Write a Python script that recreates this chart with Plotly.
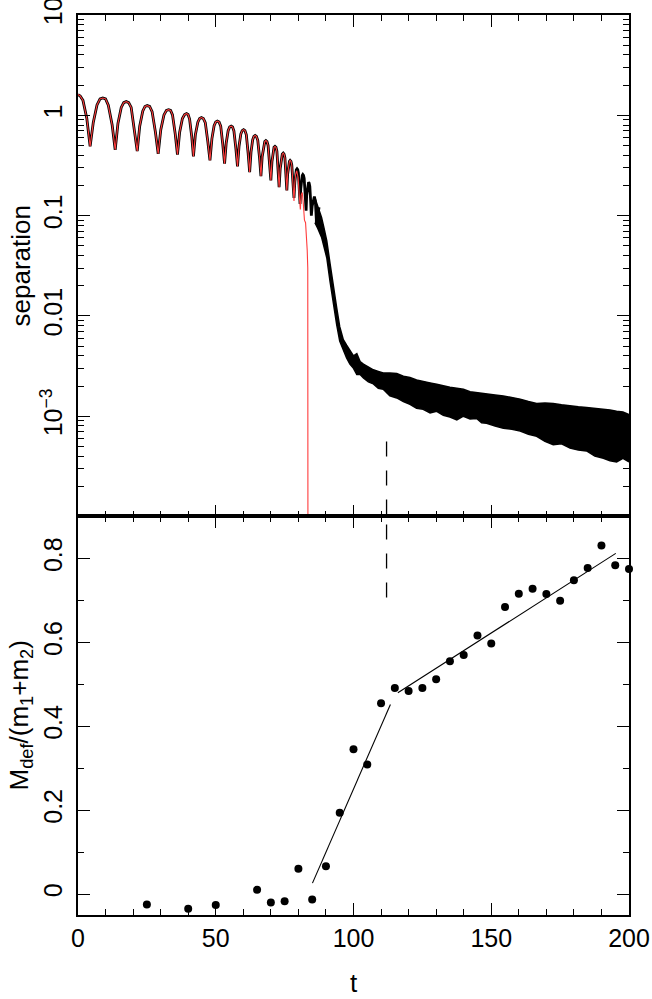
import plotly.graph_objects as go

# --- top panel: separation vs t ---------------------------------------
# oscillating phase (black curve)
osc_t = [0, 0.8, 1.8, 3.2, 4.4, 5.55, 6.9, 8.0, 9.0, 10.0, 11.0, 12.4, 13.5, 14.5, 15.7, 16.6,
         17.5, 18.4, 19.3, 20.5, 21.5, 22.4, 23.5, 24.3, 25.1, 26.0, 26.9, 28.1, 29.1, 30.05,
         31.2, 32.1, 32.9, 33.6, 34.3, 35.3, 36.1, 36.9, 37.9, 38.7, 39.4, 39.95, 40.5, 41.3,
         41.9, 42.6, 43.5, 44.15, 44.8, 45.5, 46.2, 47.1, 47.9, 48.6, 49.4, 50.0, 50.6, 51.2,
         51.8, 52.55, 53.2, 53.8, 54.5, 55.05, 55.6, 56.1, 56.6, 57.3, 57.9, 58.45, 59.1, 59.6,
         60.1, 60.6, 61.1, 61.75, 62.3, 62.8, 63.4, 63.85, 64.3, 64.75, 65.25, 65.9, 66.4,
         66.85, 67.4, 67.8, 68.2, 68.6, 69.0, 69.55, 70.0, 70.4, 70.8, 71.15, 71.5, 71.85, 72.2,
         72.6, 73.0, 73.4, 73.8, 74.15, 74.5, 74.8, 75.1, 75.5, 75.8, 76.1, 76.45, 76.75, 77.0,
         77.3, 77.6, 78.05, 78.4, 78.7, 79.0, 79.25, 79.5, 79.75, 80.0, 80.3, 80.6, 80.85,
         81.15, 81.4, 81.6, 81.85, 82.1, 82.5, 82.8, 83.0, 83.3, 83.5, 83.7, 83.9, 84.15, 84.45,
         84.7, 85.0, 85.4, 85.8, 86.15, 86.6, 87.0, 87.5]
osc_sep = [1.61, 1.56, 1.41, 0.93, 0.49, 0.85, 1.27, 1.46, 1.49, 1.46, 1.26, 0.80, 0.454, 0.83,
           1.20, 1.34, 1.37, 1.34, 1.20, 0.73, 0.44, 0.78, 1.10, 1.225, 1.25, 1.225, 1.09, 0.68,
           0.414, 0.72, 1.01, 1.12, 1.14, 1.12, 1.01, 0.65, 0.407, 0.68, 0.93, 1.02, 1.04, 1.02,
           0.92, 0.61, 0.39, 0.64, 0.855, 0.93, 0.95, 0.93, 0.845, 0.553, 0.355, 0.583, 0.787,
           0.86, 0.877, 0.86, 0.78, 0.513, 0.33, 0.53, 0.703, 0.765, 0.78, 0.765, 0.698, 0.469,
           0.31, 0.492, 0.65, 0.705, 0.72, 0.705, 0.64, 0.42, 0.271, 0.43, 0.569, 0.617, 0.63,
           0.617, 0.563, 0.377, 0.247, 0.387, 0.507, 0.548, 0.56, 0.548, 0.50, 0.338, 0.224,
           0.344, 0.446, 0.48, 0.49, 0.48, 0.438, 0.292, 0.192, 0.295, 0.382, 0.41, 0.42, 0.41,
           0.379, 0.262, 0.178, 0.26, 0.327, 0.348, 0.355, 0.348, 0.32, 0.221, 0.15, 0.217, 0.27,
           0.287, 0.293, 0.287, 0.266, 0.188, 0.131, 0.185, 0.232, 0.252, 0.257, 0.252, 0.235,
           0.165, 0.112, 0.16, 0.195, 0.211, 0.215, 0.211, 0.195, 0.14, 0.10, 0.125, 0.145,
           0.155, 0.14, 0.085, 0.10, 0.121]

# after the plunge the black curve is a dense noisy band: upper / lower edges
band_t = [86.0, 87.0, 88.4, 89.3, 90.3, 91.5, 92.7, 93.9, 95.0, 96.3, 97.5, 98.7, 100.0, 101.2,
          102.4, 103.6, 105.4, 107.2, 109.0, 110.8, 113.2, 115.7, 118.1, 120.5, 122.9, 125.3,
          127.8, 130.2, 132.6, 135.0, 137.5, 139.9, 142.3, 144.7, 146.5, 148.3, 151.4, 154.4,
          157.5, 160.5, 163.5, 166.5, 169.5, 172.5, 175.5, 178.6, 181.6, 184.6, 187.6, 190.7,
          193.1, 195.5, 197.8, 200.0]
band_hi = [0.15, 0.125, 0.096, 0.075, 0.056, 0.033, 0.0192, 0.012, 0.0078, 0.0058, 0.0051, 0.0045,
           0.0040, 0.0042, 0.0035, 0.0033, 0.0031, 0.0029, 0.0028, 0.0027, 0.0027, 0.00266, 0.0025,
           0.00243, 0.0023, 0.00224, 0.00215, 0.00208, 0.0020, 0.00194, 0.0019, 0.00186, 0.00175,
           0.00171, 0.0017, 0.00167, 0.00163, 0.00159, 0.00153, 0.00148, 0.0014, 0.00134, 0.00135,
           0.00134, 0.0013, 0.00126, 0.00124, 0.00122, 0.0012, 0.00118, 0.00115, 0.00112, 0.0011,
           0.00104]
band_lo = [0.085, 0.075, 0.061, 0.05, 0.038, 0.022, 0.013, 0.0082, 0.0056, 0.0046, 0.0038, 0.0033,
           0.0030, 0.0026, 0.0026, 0.0024, 0.0022, 0.0021, 0.0019, 0.00186, 0.0016, 0.00152, 0.0014,
           0.00131, 0.0012, 0.00117, 0.00108, 0.00112, 0.00102, 0.00098, 0.00092, 0.001, 0.00094,
           0.00095, 0.00086, 0.00085, 0.0008, 0.00076, 0.00074, 0.00071, 0.00066, 0.00063, 0.00056,
           0.00052, 0.00053, 0.00048, 0.00046, 0.00045, 0.0004, 0.00038, 0.00036, 0.00035, 0.00038,
           0.00035]

# red curve: identical to the black one up to t=77.3, then plunges at t~83.5
red_shared_until = 77.3
red_tail_t = [77.6, 78.05, 78.4, 78.7, 79.0, 79.4, 79.9, 80.3, 80.7, 81.0, 81.4, 81.8, 82.2, 82.6,
              82.9, 83.2, 83.4, 83.5, 83.5]
red_tail_sep = [0.32, 0.21, 0.14, 0.21, 0.26, 0.28, 0.24, 0.16, 0.115, 0.16, 0.17, 0.13, 0.09,
                0.085, 0.065, 0.045, 0.03, 0.012, 1e-6]

# --- bottom panel: M_def/(m1+m2) vs t ---------------------------------
mdef_t = [25, 40, 50, 65, 70, 75, 80, 85, 90, 95, 100, 105, 110, 115, 120, 125, 130, 135, 140,
          145, 150, 155, 160, 165, 170, 175, 180, 185, 190, 195, 200]
mdef = [-0.025, -0.035, -0.026, 0.010, -0.020, -0.017, 0.060, -0.013, 0.066, 0.194, 0.345, 0.309,
        0.455, 0.491, 0.484, 0.491, 0.512, 0.555, 0.570, 0.616, 0.597, 0.684, 0.716, 0.728, 0.715,
        0.699, 0.748, 0.777, 0.831, 0.784, 0.775]
fit1_t, fit1 = [85.1, 113.4], [0.026, 0.452]
fit2_t, fit2 = [116.1, 195.2], [0.480, 0.812]

# merger time marker (dashed)
t_merge = 112
merge_sep = [5.6e-4, 1e-6]
merge_m = [0.95, 0.70]

sep_ticks = [10, 1, 0.1, 0.01, 0.001]
sep_ticktext = ["10", "1", "0.1", "0.01", "10<sup>\u22123</sup>"]
m_ticks = [0, 0.2, 0.4, 0.6, 0.8]
m_ticktext = ["0", "0.2", "0.4", "0.6", "0.8"]

assert len(osc_t) == len(osc_sep)
assert len(band_t) == len(band_hi) == len(band_lo)
assert len(red_tail_t) == len(red_tail_sep)

FONT = "Liberation Sans, Arial, sans-serif"
n_shared = osc_t.index(red_shared_until) + 1

fig = go.Figure()

fig.add_trace(go.Scatter(
    x=band_t + band_t[::-1], y=band_hi + band_lo[::-1],
    mode="lines", fill="toself", fillcolor="black",
    line=dict(color="black", width=1.5), xaxis="x", yaxis="y", hoverinfo="skip",
))
fig.add_trace(go.Scatter(
    x=osc_t, y=osc_sep, mode="lines", line=dict(color="black", width=2.8),
    xaxis="x", yaxis="y",
))
fig.add_trace(go.Scatter(
    x=osc_t[:n_shared] + red_tail_t, y=osc_sep[:n_shared] + red_tail_sep,
    mode="lines", line=dict(color="rgb(255,60,60)", width=1.1),
    xaxis="x", yaxis="y",
))
fig.add_trace(go.Scatter(
    x=[t_merge, t_merge], y=merge_sep, mode="lines",
    line=dict(color="black", width=1.3, dash="15px,14px"), xaxis="x", yaxis="y",
))

fig.add_trace(go.Scatter(
    x=[t_merge, t_merge], y=merge_m, mode="lines",
    line=dict(color="black", width=1.3, dash="15px,14px"), xaxis="x2", yaxis="y2",
))
fig.add_trace(go.Scatter(
    x=fit1_t, y=fit1, mode="lines", line=dict(color="black", width=1.1),
    xaxis="x2", yaxis="y2",
))
fig.add_trace(go.Scatter(
    x=fit2_t, y=fit2, mode="lines", line=dict(color="black", width=1.1),
    xaxis="x2", yaxis="y2",
))
fig.add_trace(go.Scatter(
    x=mdef_t, y=mdef, mode="markers", marker=dict(color="black", size=8),
    cliponaxis=False, xaxis="x2", yaxis="y2",
))

axis_common = dict(
    showline=True, linecolor="black", linewidth=1.5, mirror="ticks",
    ticks="inside", ticklen=12, tickwidth=1.3, tickcolor="black",
    showgrid=False, zeroline=False, automargin=False,
    tickfont=dict(family=FONT, size=25, color="black"),
)
minor_x = dict(ticks="inside", dtick=10, ticklen=6, tickwidth=1.2, tickcolor="black")
minor_log = [d * m for d in [1e-4, 1e-3, 1e-2, 1e-1, 1] for m in range(2, 10)]

title_font = dict(family=FONT, size=26, color="black")
split = 0.4428  # panel boundary (paper fraction), nudged so the two frame lines coincide

fig.update_layout(
    width=652, height=999,
    margin=dict(l=78, r=23, t=15, b=84),
    paper_bgcolor="white", plot_bgcolor="white",
    showlegend=False,
    font=dict(family=FONT, color="black"),
    xaxis=dict(axis_common, domain=[0, 1], anchor="y", range=[0, 200], dtick=50,
               showticklabels=False, matches="x2", minor=minor_x),
    yaxis=dict(axis_common, domain=[split, 1], anchor="x", type="log", range=[-4, 1.0005],
               tickvals=sep_ticks, ticktext=sep_ticktext, tickangle=-90,
               ticklabelstandoff=4, ticklabeloverflow="allow",
               minor=dict(ticks="inside", tickvals=minor_log, ticklen=6, tickwidth=1.2,
                          tickcolor="black")),
    xaxis2=dict(axis_common, domain=[0, 1], anchor="y2", range=[0, 200], dtick=50,
                ticklabeloverflow="allow", minor=minor_x),
    yaxis2=dict(axis_common, domain=[0, split], anchor="x2", range=[-0.05, 0.9],
                tickvals=m_ticks, ticktext=m_ticktext, tickangle=-90, ticklabelstandoff=4,
                minor=dict(ticks="inside", tick0=0, dtick=0.1, ticklen=6, tickwidth=1.2,
                           tickcolor="black")),
    annotations=[
        dict(text="separation", textangle=-90, xref="paper", yref="paper",
             x=-0.104, y=(split + 1) / 2, xanchor="center", yanchor="middle",
             showarrow=False, font=title_font),
        dict(text="M<sub>def</sub>/(m<sub>1</sub>+m<sub>2</sub>)", textangle=-90,
             xref="paper", yref="paper", x=-0.104, y=split / 2,
             xanchor="center", yanchor="middle", showarrow=False, font=title_font),
        dict(text="t", xref="paper", yref="paper", x=0.5, y=-0.076,
             xanchor="center", yanchor="middle", showarrow=False, font=title_font),
    ],
)

fig.write_html("out.html", config={"displayModeBar": False},
               post_script="document.body.style.margin='0';")
